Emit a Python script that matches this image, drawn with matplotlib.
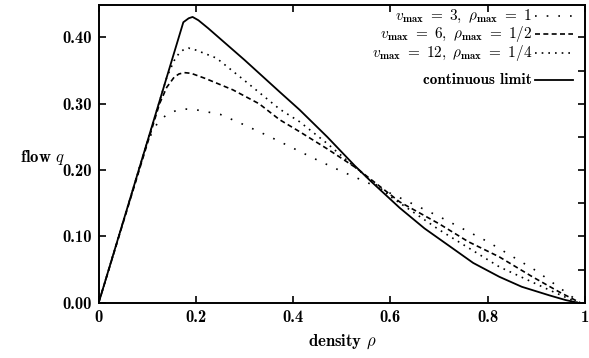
import matplotlib
matplotlib.use("Agg")
import matplotlib.pyplot as plt
from matplotlib.lines import Line2D

plt.rcParams['font.family'] = ['cmb10', 'DejaVu Serif']
plt.rcParams['mathtext.fontset'] = 'cm'

# ---- data ----
rho_c = [0, 0.174, 0.185, 0.193, 0.205, 0.225, 0.30, 0.372, 0.413, 0.47, 0.526,
         0.557, 0.619, 0.67, 0.722, 0.77, 0.824, 0.87, 0.927, 0.96, 0.985]
q_c = [0, 0.423, 0.429, 0.431, 0.426, 0.414, 0.366, 0.318, 0.291, 0.250, 0.207,
       0.185, 0.143, 0.112, 0.085, 0.060, 0.039, 0.024, 0.011, 0.004, 0.0]

rho_12 = [0, 0.14, 0.155, 0.165, 0.175, 0.185, 0.20, 0.242, 0.30, 0.372, 0.413,
          0.47, 0.526, 0.6, 0.7, 0.824, 0.927, 0.985]
q_12 = [0, 0.340, 0.365, 0.376, 0.382, 0.384, 0.381, 0.369, 0.335, 0.292, 0.273,
        0.240, 0.205, 0.160, 0.110, 0.054, 0.019, 0.0]

rho_6 = [0, 0.125, 0.14, 0.155, 0.165, 0.176, 0.19, 0.22, 0.276, 0.33, 0.372, 0.413,
         0.47, 0.53, 0.619, 0.7, 0.76, 0.824, 0.892, 0.95, 0.99]
q_6 = [0, 0.300, 0.325, 0.340, 0.345, 0.347, 0.346, 0.338, 0.321, 0.300, 0.276, 0.258,
       0.232, 0.203, 0.152, 0.119, 0.092, 0.069, 0.039, 0.015, 0.0]

rho_3 = [0, 0.10, 0.12, 0.14, 0.16, 0.18, 0.20, 0.25, 0.30, 0.35, 0.40, 0.45, 0.50,
         0.55, 0.60, 0.70, 0.80, 0.90, 0.99]
q_3 = [0, 0.243, 0.270, 0.284, 0.290, 0.292, 0.291, 0.284, 0.268, 0.251, 0.233, 0.215,
       0.198, 0.182, 0.165, 0.130, 0.092, 0.048, 0.0]

x_ticks = [0, 0.2, 0.4, 0.6, 0.8, 1.0]
x_labels = ['0', '0.2', '0.4', '0.6', '0.8', '1']
y_ticks = [0.0, 0.1, 0.2, 0.3, 0.4]
y_labels = ['0.00', '0.10', '0.20', '0.30', '0.40']
y_minor = [0.05, 0.15, 0.25, 0.35]

labels = [r'$v_{\mathbf{max}}\ \mathbf{=\ 3,}\ \rho_{\mathbf{max}}\ \mathbf{=\ 1}$',
          r'$v_{\mathbf{max}}\ \mathbf{=\ 6,}\ \rho_{\mathbf{max}}\ \mathbf{=\ 1/2}$',
          r'$v_{\mathbf{max}}\ \mathbf{=\ 12,}\ \rho_{\mathbf{max}}\ \mathbf{=\ 1/4}$',
          'continuous limit']

FS = 12

fig = plt.figure(figsize=(5.89, 3.58), dpi=100)
ax = fig.add_axes([0.1676, 0.1545, 0.8256, 0.8315])

styles = [dict(ls=(0, (1, 6)), lw=1.2),
          dict(ls=(0, (3, 2)), lw=1.2),
          dict(ls=(0, (1, 3)), lw=1.2),
          dict(ls='-', lw=1.3)]
series = [(rho_3, q_3), (rho_6, q_6), (rho_12, q_12), (rho_c, q_c)]
for (r, q), st in zip(series, styles):
    ax.plot(r, q, color='black', **st)

ax.set_xlim(0, 1)
ax.set_ylim(0, 0.449)
ax.set_xticks(x_ticks)
ax.set_xticklabels(x_labels)
ax.set_yticks(y_ticks)
ax.set_yticklabels(y_labels)
ax.set_yticks(y_minor, minor=True)
ax.tick_params(which='major', direction='in', length=5, width=1.2,
               top=True, right=True, labelsize=FS, pad=5)
ax.tick_params(which='minor', direction='in', length=5, width=1.2,
               left=False, right=True)
for s in ax.spines.values():
    s.set_linewidth(1.4)

ax.set_xlabel(r'density $\rho$', fontsize=FS, labelpad=6)
ax.text(-0.162, 0.489, r'flow $q$', transform=ax.transAxes, fontsize=FS,
        ha='left', va='center')

# legend drawn manually to match layout (text left of sample)
ys = [0.962, 0.901, 0.840, 0.748]
for lab, st, y in zip(labels, styles, ys):
    ax.text(0.891, y, lab, transform=ax.transAxes, ha='right', va='center',
            fontsize=11)
    ax.add_line(Line2D([0.898, 0.976], [y, y], transform=ax.transAxes,
                       color='black', **st))

fig.savefig('out.png', dpi=100)
